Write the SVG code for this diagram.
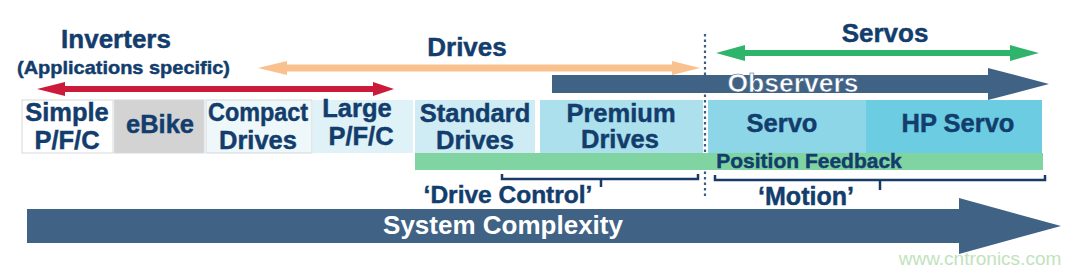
<svg xmlns="http://www.w3.org/2000/svg" width="1082" height="270" viewBox="0 0 1082 270">
<style>
  text { font-family: "Liberation Sans", Arial, sans-serif; font-weight: bold; }
  .dk { fill: #123d6c; stroke: #123d6c; stroke-width: 0.45; }
  .title { font-size: 26px; text-anchor: middle; }
  .lbl { font-size: 25.5px; text-anchor: middle; }
  .white { fill: #ffffff; }
  .box { stroke: #d4d8da; stroke-width: 1; }
  .brk { fill: none; stroke: #173b68; stroke-width: 2.5; }
</style>
<rect width="1082" height="270" fill="#ffffff"/>

<g id="connectors">
  <line x1="705" y1="34" x2="705" y2="198" stroke="#3c5d80" stroke-width="2.2" stroke-dasharray="2.5,3"/>
  <polygon id="drives-arrow" fill="#f9c18e" points="258,68 287,61 287,64.5 672,64.5 672,61 700,68 672,75 672,71.5 287,71.5 287,75"/>
  <polygon id="inverters-arrow" fill="#cc1a3a" points="37,89 65,82 65,86 373,86 373,82 394,89 373,96 373,92 65,92 65,96"/>
  <polygon id="servos-arrow" fill="#2fb46c" points="716,53 745,45 745,50 1010,50 1010,45 1039,53 1010,61 1010,56 745,56 745,61"/>
  <polygon id="observers-arrow" fill="#3f6285" points="552,75 988,75 988,68 1049,84 988,100 988,93 552,93"/>
  <polygon id="complexity-arrow" fill="#3f6285" points="27,209 959,209 959,198 1061,226 959,254 959,243 27,243"/>
  <rect id="position-feedback-bar" x="415" y="153" width="628" height="17" fill="#80d4a2"/>
  <path class="brk" d="M502,174 V179 H698 V174 M601,179 V187"/>
  <path class="brk" d="M715,175 V180 H1045 V175 M880,180 V190"/>
</g>

<g id="title-inverters">
  <text class="title dk" x="116" y="48">Inverters</text>
  <text class="dk" x="123.5" y="74" font-size="19" text-anchor="middle" textLength="213" lengthAdjust="spacingAndGlyphs">(Applications specific)</text>
</g>
<g id="title-drives"><text class="title dk" x="467" y="56">Drives</text></g>
<g id="title-servos"><text class="title dk" x="885" y="42">Servos</text></g>
<g id="label-observers"><text class="white" x="793" y="92" font-size="26.5" text-anchor="middle" stroke="#3f6285" stroke-width="0.6">Observers</text></g>

<g id="node-simple">
  <rect class="box" x="22" y="100" width="91" height="53" fill="#ffffff"/>
  <text class="lbl dk" x="67" y="121">Simple</text>
  <text class="lbl dk" x="67" y="149">P/F/C</text>
</g>
<g id="node-ebike">
  <rect class="box" x="114.5" y="100" width="89.5" height="53" fill="#d3d3d3"/>
  <text class="lbl dk" x="160" y="133">eBike</text>
</g>
<g id="node-compact">
  <rect class="box" x="206" y="100" width="106" height="53" fill="#eef7fa"/>
  <text class="lbl dk" x="258" y="121" textLength="100" lengthAdjust="spacingAndGlyphs">Compact</text>
  <text class="lbl dk" x="258" y="149">Drives</text>
</g>
<g id="node-large">
  <rect x="313" y="100" width="100" height="53" fill="#dff2f7"/>
  <text class="lbl dk" x="357" y="117">Large</text>
  <text class="lbl dk" x="361" y="145">P/F/C</text>
</g>
<g id="node-standard">
  <rect x="415" y="100" width="120" height="53" fill="#cfecf4"/>
  <text class="lbl dk" x="475" y="122">Standard</text>
  <text class="lbl dk" x="475" y="149">Drives</text>
</g>
<g id="node-premium">
  <rect x="540" y="100" width="163" height="53" fill="#abe0ec"/>
  <text class="lbl dk" x="621" y="122">Premium</text>
  <text class="lbl dk" x="620" y="148">Drives</text>
</g>
<g id="node-servo">
  <rect x="708" y="100" width="158" height="53" fill="#8dd6e7"/>
  <text class="lbl dk" x="782" y="132">Servo</text>
</g>
<g id="node-hpservo">
  <rect x="866" y="100" width="176" height="53" fill="#6bcce2"/>
  <text class="lbl dk" x="958" y="132">HP Servo</text>
</g>

<g id="label-position-feedback"><text class="dk" x="809" y="168" font-size="21" text-anchor="middle">Position Feedback</text></g>
<g id="label-drive-control"><text class="dk" x="508" y="203" font-size="24.5" text-anchor="middle">‘Drive Control’</text></g>
<g id="label-motion"><text class="dk" x="806" y="205" font-size="25" text-anchor="middle">‘Motion’</text></g>
<g id="label-system-complexity"><text class="white" x="503" y="234" font-size="26" text-anchor="middle">System Complexity</text></g>
<g id="watermark"><text x="980" y="265" font-size="19" fill="#bfe3bd" text-anchor="middle" style="font-weight:normal">www.cntronics.com</text></g>
</svg>
